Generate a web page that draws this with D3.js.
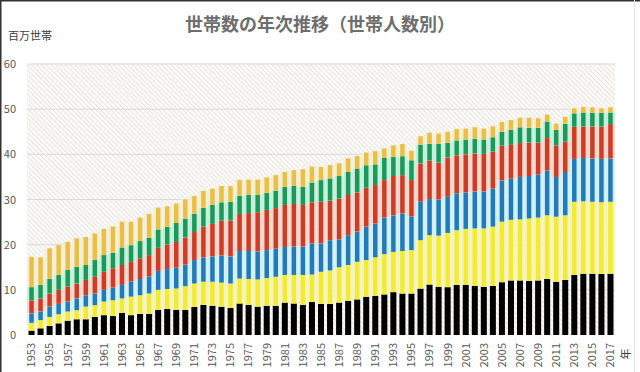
<!DOCTYPE html>
<html lang="ja">
<head>
<meta charset="utf-8">
<title>世帯数の年次推移（世帯人数別）</title>
<style>
body { margin: 0; background: #fff; }
text { font-family: "Noto Sans CJK JP", "Noto Sans", sans-serif; }
</style>
<script src="https://cdnjs.cloudflare.com/ajax/libs/d3/7.8.5/d3.min.js"></script>
</head>
<body>
<script>
// years on the x axis (one bar each)
var years = [1953, 1954, 1955, 1956, 1957, 1958, 1959, 1960, 1961, 1962,
             1963, 1964, 1965, 1966, 1967, 1968, 1969, 1970, 1971, 1972,
             1973, 1974, 1975, 1976, 1977, 1978, 1979, 1980, 1981, 1982,
             1983, 1984, 1985, 1986, 1987, 1988, 1989, 1990, 1991, 1992,
             1993, 1994, 1995, 1996, 1997, 1998, 1999, 2000, 2001, 2002,
             2003, 2004, 2005, 2006, 2007, 2008, 2009, 2010, 2011, 2012,
             2013, 2014, 2015, 2016, 2017];

// households by size, millions
var one   = [1.0, 1.5, 2.0, 2.6, 3.2, 3.5, 3.5, 4.0, 4.4, 4.2, 4.9, 4.4, 4.7, 4.7, 5.6, 5.8, 5.6, 5.6, 6.2, 6.7,
             6.5, 6.3, 6.0, 7.0, 6.7, 6.3, 6.5, 6.5, 7.2, 7.0, 6.7, 7.3, 6.9, 6.9, 7.2, 7.6, 7.9, 8.5, 8.7, 9.0,
             9.5, 9.2, 9.2, 10.3, 11.2, 10.7, 10.6, 11.1, 11.1, 10.9, 10.7, 10.9, 11.7, 12.1, 12.1, 12.0, 12.1, 12.4, 11.8, 12.2,
             13.3, 13.6, 13.6, 13.5, 13.6];
var two   = [1.7, 1.8, 2.0, 2.0, 2.0, 2.0, 2.8, 2.6, 3.0, 3.5, 3.2, 4.1, 4.1, 4.5, 4.4, 4.4, 4.7, 5.2, 5.2, 5.1,
             5.3, 5.3, 5.4, 5.5, 5.7, 6.0, 6.1, 6.4, 6.1, 6.3, 6.6, 6.1, 7.1, 7.4, 7.8, 7.9, 8.3, 8.1, 8.5, 8.9,
             8.9, 9.4, 9.6, 10.7, 10.9, 11.3, 12.0, 12.1, 12.4, 12.7, 12.9, 13.1, 13.4, 13.4, 13.5, 13.8, 13.9, 14.1, 14.4, 14.3,
             16.2, 16.0, 15.9, 15.9, 15.9];
var three = [2.1, 1.9, 2.3, 2.3, 2.2, 2.6, 2.5, 2.6, 2.6, 2.8, 3.0, 3.3, 3.6, 3.8, 4.2, 4.4, 4.6, 4.8, 5.2, 5.4,
             5.6, 6.0, 6.0, 6.1, 6.2, 6.2, 6.2, 6.2, 6.2, 6.3, 6.3, 6.9, 6.3, 6.7, 6.2, 6.6, 6.7, 7.4, 7.5, 8.1,
             8.1, 8.3, 7.5, 8.5, 8.0, 8.0, 8.0, 8.2, 8.1, 8.2, 8.2, 8.4, 9.1, 9.1, 9.4, 9.4, 9.6, 9.9, 8.8, 9.6,
             9.5, 9.6, 9.6, 9.6, 9.6];
var four  = [2.9, 2.9, 2.9, 3.1, 3.3, 3.3, 3.4, 3.7, 4.0, 4.3, 4.4, 4.4, 4.6, 4.7, 5.1, 5.4, 5.7, 6.0, 6.2, 6.8,
             7.2, 7.7, 8.0, 8.2, 8.4, 8.7, 8.9, 9.0, 9.3, 9.4, 9.2, 9.1, 9.2, 8.8, 9.0, 8.9, 8.7, 8.6, 8.5, 8.3,
             8.7, 8.5, 8.0, 8.5, 8.5, 8.2, 8.7, 8.4, 8.4, 8.4, 8.3, 8.2, 7.7, 7.5, 7.5, 7.4, 7.0, 7.2, 7.0, 6.7,
             7.1, 7.0, 7.1, 7.2, 7.6];
var five  = [2.9, 3.0, 3.3, 3.3, 3.7, 3.7, 3.3, 3.7, 3.7, 3.4, 3.9, 3.7, 3.8, 3.9, 4.1, 4.0, 4.2, 4.1, 4.1, 4.2,
             4.2, 4.1, 4.1, 4.0, 4.0, 3.8, 3.8, 3.9, 4.0, 4.0, 4.0, 4.4, 4.8, 4.9, 5.0, 5.1, 5.3, 5.0, 4.6, 4.9,
             4.2, 4.2, 4.4, 4.2, 3.8, 4.1, 3.3, 3.3, 3.3, 3.3, 3.2, 3.2, 3.1, 3.3, 3.5, 3.3, 3.3, 3.7, 3.4, 4.0,
             3.0, 3.1, 3.0, 3.0, 2.6];
var six   = [6.7, 6.1, 6.7, 6.6, 6.2, 6.3, 6.2, 5.9, 5.8, 5.8, 5.7, 5.2, 5.2, 5.2, 4.8, 4.5, 4.3, 4.3, 3.9, 3.7,
             3.6, 3.6, 3.5, 3.5, 3.4, 3.4, 3.4, 3.4, 3.3, 3.5, 3.9, 3.5, 2.9, 2.9, 2.8, 3.0, 2.7, 2.8, 2.9, 2.1,
             2.6, 2.7, 2.1, 1.8, 2.4, 2.3, 2.4, 2.5, 2.4, 2.5, 2.4, 2.4, 2.2, 2.2, 2.1, 2.2, 2.1, 1.5, 1.4, 1.5,
             1.1, 1.2, 1.2, 1.0, 1.1];

var seriesKeys = ["one", "two", "three", "four", "five", "six"];
var yTicks = [0, 10, 20, 30, 40, 50, 60];
var xTicks = years.filter(function(d, i) { return i % 2 == 0; });

var darkColors  = {one: "#000000", two: "#f0ea40", three: "#2878b2", four: "#c4402a", five: "#22965a", six: "#e6bf52"};
var lightColors = {two: "#f8f5b0", three: "#ccf2fb", four: "#fad3c9", five: "#bff2da", six: "#f8efcc"};

// rows for d3.stack
var table = years.map(function(y, i) {
    return {year: y, one: one[i], two: two[i], three: three[i], four: four[i], five: five[i], six: six[i]};
});
var stacked = d3.stack().keys(seriesKeys)(table);

var width = 640, height = 372;
var svg = d3.select("body").append("svg")
    .attr("width", width)
    .attr("height", height);

var x = d3.scaleBand().domain(years).range([27, 615]).padding(0);
var y = d3.scaleLinear().domain([0, 60]).range([335, 64]);

// hatched plot background
var defs = svg.append("defs");
var pat = defs.append("pattern")
    .attr("id", "hatch")
    .attr("patternUnits", "userSpaceOnUse")
    .attr("width", 3.4).attr("height", 3.4)
    .attr("patternTransform", "rotate(-45)");
pat.append("rect").attr("width", 3.4).attr("height", 3.4).attr("fill", "#fbfaf8");
pat.append("line")
    .attr("x1", 0).attr("y1", 0).attr("x2", 0).attr("y2", 3.4)
    .attr("stroke", "#d9d5cf").attr("stroke-width", 1.1);

svg.append("rect")
    .attr("x", 27).attr("y", 64)
    .attr("width", 588).attr("height", 271)
    .attr("fill", "url(#hatch)");

// grid lines
svg.append("g").selectAll("line")
    .data(yTicks.slice(1))
    .enter().append("line")
        .attr("x1", 27).attr("x2", 615)
        .attr("y1", function(d) { return y(d); })
        .attr("y2", function(d) { return y(d); })
        .style("stroke", "#d9d9d9")
        .style("stroke-width", "1px");

// bars: pale full-width backing plus darker core
var bw = x.bandwidth();
var layers = svg.append("g").selectAll("g")
    .data(stacked)
    .enter().append("g");

layers.filter(function(d) { return d.key != "one"; })
    .selectAll("rect.light")
    .data(function(d) { return d.map(function(p) { p.key = d.key; return p; }); })
    .enter().append("rect")
        .attr("class", "light")
        .attr("x", function(d) { return x(d.data.year); })
        .attr("width", bw)
        .attr("y", function(d) { return y(d[1]); })
        .attr("height", function(d) { return y(d[0]) - y(d[1]); })
        .style("fill", function(d) { return lightColors[d.key]; });

layers.selectAll("rect.dark")
    .data(function(d) { return d.map(function(p) { p.key = d.key; return p; }); })
    .enter().append("rect")
        .attr("class", "dark")
        .attr("x", function(d) {
            var w = d.key == "one" ? 6 : 4.5;
            return x(d.data.year) + (bw - w) / 2;
        })
        .attr("width", function(d) { return d.key == "one" ? 6 : 4.5; })
        .attr("y", function(d) { return y(d[1]); })
        .attr("height", function(d) { return y(d[0]) - y(d[1]); })
        .style("fill", function(d) { return darkColors[d.key]; });

// y axis
var yAxis = svg.append("g")
    .attr("transform", "translate(27,0)")
    .call(d3.axisLeft(y).tickValues(yTicks).tickSize(0).tickPadding(11));
yAxis.select(".domain").remove();
yAxis.selectAll("text")
    .style("font-size", "11px")
    .style("fill", "#595959");

// x axis
var xAxis = svg.append("g")
    .attr("transform", "translate(0,335)")
    .call(d3.axisBottom(x).tickValues(xTicks).tickSize(0));
xAxis.select(".domain").remove();
xAxis.selectAll("text")
    .attr("transform", "rotate(-90)")
    .attr("x", -8)
    .attr("y", 0)
    .attr("dy", "0.35em")
    .style("text-anchor", "end")
    .style("font-size", "11px")
    .style("fill", "#595959");

// titles
svg.append("text")
    .attr("x", 320).attr("y", 31)
    .attr("text-anchor", "middle")
    .style("font-size", "18px")
    .style("font-weight", "bold")
    .style("fill", "#6e6e6e")
    .text("世帯数の年次推移（世帯人数別）");

svg.append("text")
    .attr("x", 8).attr("y", 40)
    .style("font-size", "11px")
    .style("fill", "#404040")
    .text("百万世帯");

svg.append("text")
    .attr("transform", "translate(626,354) rotate(-90)")
    .attr("text-anchor", "middle")
    .attr("dy", "0.35em")
    .style("font-size", "11px")
    .style("fill", "#404040")
    .text("年");

// frame
svg.append("line").attr("x1", 0).attr("y1", 0.5).attr("x2", width).attr("y2", 0.5)
    .style("stroke", "#333").style("stroke-width", "2px");
svg.append("line").attr("x1", 0.5).attr("y1", 0).attr("x2", 0.5).attr("y2", height)
    .style("stroke", "#333").style("stroke-width", "2px");
svg.append("line").attr("x1", 634.5).attr("y1", 0).attr("x2", 634.5).attr("y2", height)
    .style("stroke", "#e6e6e6").style("stroke-width", "1px");
</script>
</body>
</html>
